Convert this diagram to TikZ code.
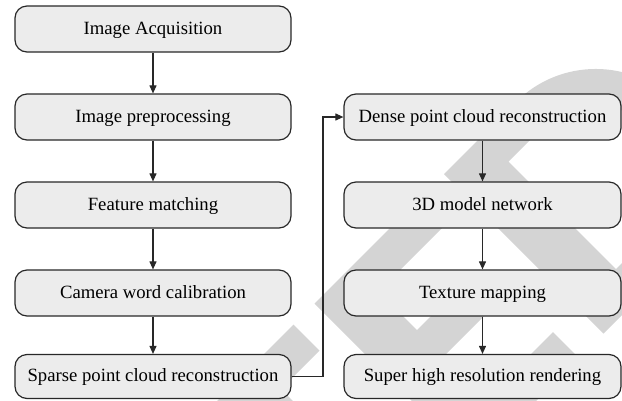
\documentclass[tikz,border=0pt]{standalone}
\usepackage{fontspec}
\setmainfont{Liberation Serif}
\usetikzlibrary{arrows.meta}
\definecolor{boxfill}{RGB}{236,236,236}
\definecolor{boxline}{RGB}{40,40,40}
\definecolor{wmark}{RGB}{212,212,212}
\begin{document}
\begin{tikzpicture}[x=1pt,y=-1pt,
  stepbox/.style={draw=boxline, fill=boxfill, line width=1.2pt,
    rounded corners=12pt, minimum height=46pt, inner sep=0pt,
    text height=13.5pt, text depth=3.5pt,
    font=\fontsize{18.7}{22}\selectfont},
  leftbox/.style={stepbox, minimum width=276pt},
  rightbox/.style={stepbox, minimum width=277pt},
  flow/.style={draw=boxline, line width=1.1pt,
    -{Triangle[length=8pt,width=7pt]}}]
\useasboundingbox (0,0) rectangle (622,400);

% background lettering (rotated 45 degrees, light grey)
\begin{scope}
  \clip (0,0) rectangle (622,400);
  \begin{scope}[x={(0.5pt,0.5pt)}, y={(0.5pt,-0.5pt)}, fill=wmark]
    % T
    \fill (-261,618) -- (-31,618) -- (-31,670) -- (-108,670) -- (-108,937)
      -- (-184,937) -- (-184,670) -- (-261,670) -- cycle;
    % E
    \fill (11,618) -- (221,618) -- (221,670) -- (87,670) -- (87,747)
      -- (200,747) -- (200,800) -- (87,800) -- (87,885) -- (221,885)
      -- (221,937) -- (11,937) -- cycle;
    % D
    \fill[even odd rule]
      (270,618) -- (414,618) arc[start angle=-90, end angle=90, radius=159.5]
      -- (270,937) -- cycle
      (347,670) -- (414,670) arc[start angle=-90, end angle=90, radius=107.5]
      -- (347,885) -- cycle;
  \end{scope}
\end{scope}

% left column
\node[leftbox] (acq)    at (153,29)    {Image Acquisition};
\node[leftbox] (pre)    at (153,117)   {Image preprocessing};
\node[leftbox] (feat)   at (153,205)   {Feature matching};
\node[leftbox] (calib)  at (153,293)   {Camera word calibration};
\node[leftbox, minimum height=44pt] (sparse) at (153,376.5) {Sparse point cloud reconstruction};

% right column
\node[rightbox] (dense)  at (482.5,117) {Dense point cloud reconstruction};
\node[rightbox] (mesh)   at (482.5,205) {3D model network};
\node[rightbox] (tex)    at (482.5,293) {Texture mapping};
\node[rightbox, minimum height=44pt] (render) at (482.5,376.5) {Super high resolution rendering};

% connectors
\draw[flow] (acq) -- (pre);
\draw[flow] (pre) -- (feat);
\draw[flow] (feat) -- (calib);
\draw[flow] (calib) -- (sparse);
\coordinate (bend) at (323,0);
\draw[flow] (sparse.east) -- (sparse.east -| bend) |- (dense.west);
\draw[flow] (dense) -- (mesh);
\draw[flow] (mesh) -- (tex);
\draw[flow] (tex) -- (render);
\end{tikzpicture}
\end{document}
